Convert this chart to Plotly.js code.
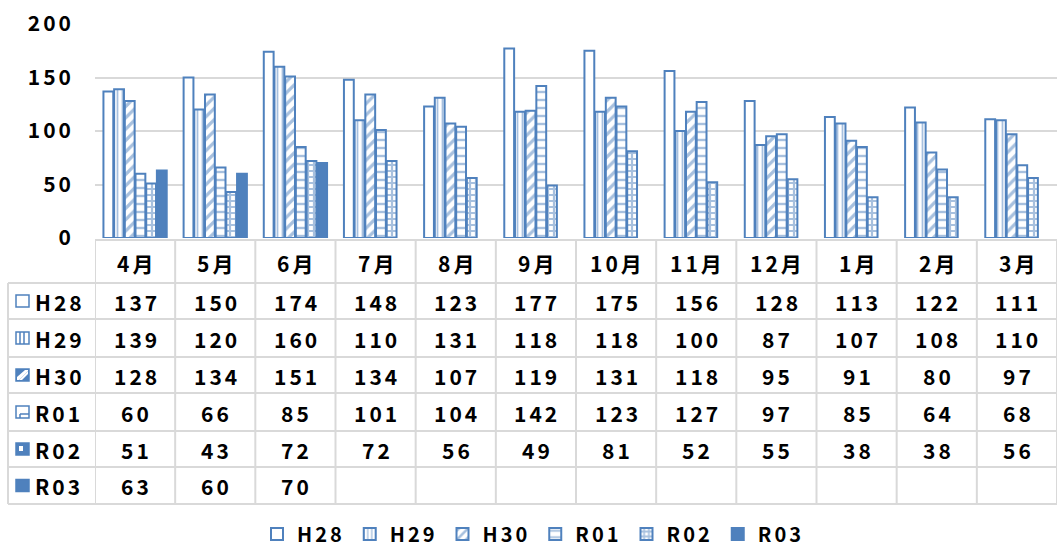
<!DOCTYPE html>
<html><head><meta charset="utf-8">
<script src="https://cdn.plot.ly/plotly-3.0.1.min.js"></script>
<style>html,body{margin:0;padding:0;background:#fff;}#chart{width:1057px;height:548px;}
svg text{letter-spacing:3px;}</style>
</head><body><div id="chart"></div>
<script>
const months = ["4月","5月","6月","7月","8月","9月","10月","11月","12月","1月","2月","3月"];
const seriesNames = ["H28","H29","H30","R01","R02","R03"];
const H28 = [137,150,174,148,123,177,175,156,128,113,122,111];
const H29 = [139,120,160,110,131,118,118,100,87,107,108,110];
const H30 = [128,134,151,134,107,119,131,118,95,91,80,97];
const R01 = [60,66,85,101,104,142,123,127,97,85,64,68];
const R02 = [51,43,72,72,56,49,81,52,55,38,38,56];
const R03 = [63,60,70,null,null,null,null,null,null,null,null,null];
const yTicks = [0,50,100,150,200];

const values = [H28,H29,H30,R01,R02,R03];
const BLUE = "#4f81bd";
const FONT = "'Noto Sans CJK JP', 'Noto Sans', sans-serif";
const shapesPat = ["", "|", "/", "-", "+", ""];
const patSize = [0, 5, 8, 8, 6, 0];
const patSol = [0, 0.35, 0.4, 0.3, 0.6, 0];

// pixel helpers for table layout
const L = 95, W = 962, T = 24, H = 214, AX = T + H;
const px = p => (p - L) / W;
const py = p => (AX - p) / H;

const traces = seriesNames.map((n, i) => {
  const m = {line: {color: BLUE, width: 2}};
  if (i === 5) { m.color = BLUE; }
  else if (i === 0) { m.color = "#ffffff"; }
  else {
    m.color = "#ffffff";
    m.pattern = {shape: shapesPat[i], fgcolor: BLUE, bgcolor: "#ffffff", size: patSize[i], solidity: patSol[i], fillmode: "overlay"};
  }
  return {type: "bar", name: n, x: months, y: values[i], marker: m, hoverinfo: "skip"};
});

const shapes = [];
const annotations = [];
const GRID = "#d9d9d9";
const TF = {family: FONT, size: 21, color: "#000", weight: "bold"};
// horizontal table lines (pixels)
const rowLines = [240, 283, 319, 357, 393, 431, 467, 504];
rowLines.forEach((yp, k) => {
  shapes.push({type: "line", xref: "paper", yref: "paper", x0: px(k === 0 ? 95 : 8), x1: 1.01, y0: py(yp), y1: py(yp), line: {color: GRID, width: 2}});
});
// vertical lines between categories
for (let c = 0; c <= months.length; c++) {
  shapes.push({type: "line", xref: "x", yref: "paper", x0: c - 0.5, x1: c - 0.5, y0: py(240), y1: py(504), line: {color: GRID, width: 2}});
}
shapes.push({type: "line", xref: "paper", yref: "paper", x0: px(8), x1: px(8), y0: py(283), y1: py(504), line: {color: GRID, width: 2}});

// header months
const headerY = (240 + 283) / 2;
months.forEach((m, c) => {
  annotations.push({xref: "x", yref: "paper", x: c, y: py(headerY), text: m, showarrow: false, xanchor: "center", yanchor: "middle", xshift: 1.5, yshift: -1, font: TF});
});
// rows
seriesNames.forEach((n, r) => {
  const yc = (rowLines[r + 1] + rowLines[r + 2]) / 2;
  annotations.push({xref: "paper", yref: "paper", x: px(33), y: py(yc), text: n, showarrow: false, xanchor: "left", yanchor: "middle", yshift: -1, font: TF});
  values[r].forEach((v, c) => {
    if (v === null) return;
    annotations.push({xref: "x", yref: "paper", x: c, y: py(yc), text: String(v), showarrow: false, xanchor: "center", yanchor: "middle", xshift: 1.5, yshift: -1, font: TF});
  });
  // icons
  const x0 = 16, x1 = 29, y0 = yc - 6, y1 = yc + 6;
  const rect = (a, b, c2, d, fill) => ({type: "rect", xref: "paper", yref: "paper", x0: px(a), x1: px(b), y0: py(c2), y1: py(d), line: {color: BLUE, width: 1.5}, fillcolor: fill || "rgba(0,0,0,0)"});
  const line = (a, b, c2, d) => ({type: "line", xref: "paper", yref: "paper", x0: px(a), x1: px(b), y0: py(c2), y1: py(d), line: {color: BLUE, width: 1.5}});
  if (r === 5) shapes.push(rect(x0, x1, y0, y1, BLUE));
  else if (r === 4) { shapes.push(rect(x0, x1, y0, y1, BLUE)); shapes.push({type: "rect", xref: "paper", yref: "paper", x0: px(x0 + 3), x1: px(x0 + 7), y0: py(y0 + 3), y1: py(y0 + 8), line: {width: 0}, fillcolor: "#fff"}); }
  else if (r === 2) {
    shapes.push(rect(x0, x1, y0, y1, BLUE));
    shapes.push({type: "path", xref: "paper", yref: "paper", path: `M ${px(x0 + 3)} ${py(y1 - 1)} L ${px(x1 - 1)} ${py(y0 + 2)} L ${px(x1 - 1)} ${py(y0 + 5)} L ${px(x0 + 6)} ${py(y1 - 1)} Z`, line: {width: 0}, fillcolor: "#fff"});
    shapes.push({type: "path", xref: "paper", yref: "paper", path: `M ${px(x0 + 1)} ${py(y1 - 4)} L ${px(x1 - 4)} ${py(y0 + 1)} L ${px(x1 - 1)} ${py(y0 + 1)} L ${px(x1 - 1)} ${py(y0 + 2)} L ${px(x0 + 3)} ${py(y1 - 1)} L ${px(x0 + 1)} ${py(y1 - 1)} Z`, line: {width: 0}, fillcolor: "#fff"});
  }
  else {
    shapes.push(rect(x0, x1, y0, y1));
    if (r === 1) { shapes.push(line(x0 + 4, x0 + 4, y0, y1)); shapes.push(line(x0 + 8, x0 + 8, y0, y1)); }
    if (r === 3) { shapes.push(line(x0 + 4, x1, y1 - 4, y1 - 4)); shapes.push(line(x0 + 4, x0 + 4, y1 - 4, y1)); }
  }
});

const layout = {
  width: 1057, height: 548,
  margin: {l: L, r: 0, t: T, b: 548 - AX, pad: 0, autoexpand: false},
  paper_bgcolor: "#fff", plot_bgcolor: "#fff",
  barmode: "group", bargap: 0.2, bargroupgap: 0.08,
  showlegend: true,
  legend: {orientation: "h", x: (533 - L) / W, xanchor: "center", y: py(534), yanchor: "middle", font: {family: FONT, size: 20, color: "#000", weight: "bold"}, itemwidth: 30, traceorder: "normal"},
  xaxis: {type: "category", range: [-0.5, 11.5], showticklabels: false, ticks: "", showgrid: false, zeroline: false, showline: false, fixedrange: true},
  yaxis: {range: [0, 200], tickvals: yTicks, ticktext: yTicks.map(String), showgrid: true, gridcolor: GRID, gridwidth: 2, zeroline: false, showline: false, ticks: "", ticklabelstandoff: 20, tickfont: {family: FONT, size: 21, color: "#000", weight: "bold"}, fixedrange: true},
  shapes: shapes, annotations: annotations,
  font: {family: FONT}
};
Plotly.newPlot("chart", traces, layout, {displayModeBar: false, staticPlot: true});
</script></body></html>
